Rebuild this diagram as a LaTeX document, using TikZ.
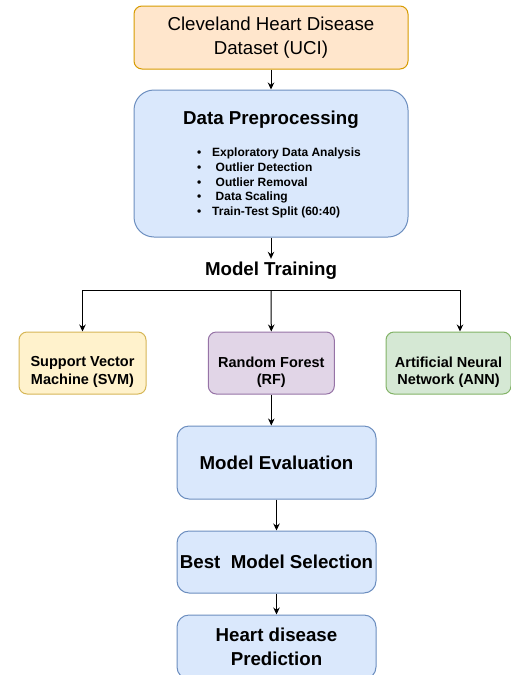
\documentclass[tikz,border=0pt]{standalone}
\usepackage{fontspec}
\setmainfont{Liberation Sans}
\usetikzlibrary{arrows.meta}
\definecolor{orangefill}{HTML}{FFE6CC}
\definecolor{orangeline}{HTML}{D79B00}
\definecolor{bluefill}{HTML}{DAE8FC}
\definecolor{blueline}{HTML}{6C8EBF}
\definecolor{yellowfill}{HTML}{FFF2CC}
\definecolor{yellowline}{HTML}{D6B656}
\definecolor{purplefill}{HTML}{E1D5E7}
\definecolor{purpleline}{HTML}{9673A6}
\definecolor{greenfill}{HTML}{D5E8D4}
\definecolor{greenline}{HTML}{82B366}
\newcommand{\fbig}{\fontsize{18.7}{23.5}\selectfont}
\newcommand{\fmid}{\fontsize{14.5}{17.5}\selectfont}
\newcommand{\fsmall}{\fontsize{12}{14.8}\selectfont}
\newcommand{\bul}{\makebox[15pt][l]{•}}

\begin{document}
\begin{tikzpicture}[x=1pt,y=-1pt,
    box/.style={rounded corners=8pt, inner sep=0pt, align=center, line width=1pt},
    bluebox/.style={box, draw=blueline, fill=bluefill, minimum width=199pt, rounded corners=12pt},
    algbox/.style={box, minimum width=126pt, minimum height=62pt},
    algtext/.style={align=center, inner sep=0pt, font=\fmid\bfseries},
    link/.style={-{Stealth[length=7pt,width=6.5pt]}, line width=1pt}]
    \useasboundingbox (0,0) rectangle (511,675);

    % dataset and preprocessing
    \node[box, draw=orangeline, fill=orangefill, minimum width=274pt, minimum height=63pt, font=\fbig] (data) at (271,37.5) {Cleveland Heart Disease\\Dataset (UCI)};
    \node[box, draw=blueline, fill=bluefill, minimum width=274pt, minimum height=147pt, rounded corners=20pt] (prep) at (271,163.5) {};
    \node[font=\fbig\bfseries, inner sep=0pt] (preptitle) at (271,120) {Data Preprocessing};
    \node[anchor=west, align=left, inner sep=0pt, font=\fsmall\bfseries] (preplist) at (197,183) {\bul Exploratory Data Analysis\\ \bul\hspace{3.5pt}Outlier Detection\\ \bul\hspace{3.5pt}Outlier Removal\\ \bul\hspace{3.5pt}Data Scaling\\ \bul Train-Test Split (60:40)};
    \draw[link] (data) -- (prep);

    % training
    \node[font=\fbig\bfseries, inner sep=0pt, minimum height=24pt] (train) at (271,271) {Model Training};
    \coordinate (split) at (271,290);
    \draw[link] (prep) -- (train);

    \node[algbox, draw=yellowline, fill=yellowfill, minimum width=127pt] (svm) at (82.5,363) {};
    \node[algbox, draw=purpleline, fill=purplefill] (rf) at (271.3,363) {};
    \node[algbox, draw=greenline, fill=greenfill, minimum width=125pt] (ann) at (448.5,363) {};
    \node[algtext] (svmtext) at ([yshift=-9pt]svm.center) {Support Vector\\Machine (SVM)};
    \node[algtext] (rftext) at ([yshift=-9pt]rf.center) {Random Forest\\(RF)};
    \node[algtext] (anntext) at ([yshift=-9pt]ann.center) {Artificial Neural\\Network (ANN)};
    \draw[link] (split) -| (svm.north);
    \draw[link] (split) -- (rf.north);
    \draw[link] (split) -| ([xshift=11.5pt]ann.north);

    % evaluation and selection
    \node[bluebox, minimum height=73pt, font=\fbig\bfseries] (eval) at (276.5,462.5) {Model Evaluation};
    \node[bluebox, minimum height=62pt, font=\fbig\bfseries] (best) at (276.5,562) {Best\ \ Model Selection};
    \node[bluebox, minimum height=64pt, font=\fbig\bfseries] (pred) at (276.5,647) {Heart disease\\Prediction};
    \draw[link] (rf.south) -- (rf.south |- eval.north);
    \draw[link] (eval) -- (best);
    \draw[link] (best) -- (pred);
\end{tikzpicture}
\end{document}
